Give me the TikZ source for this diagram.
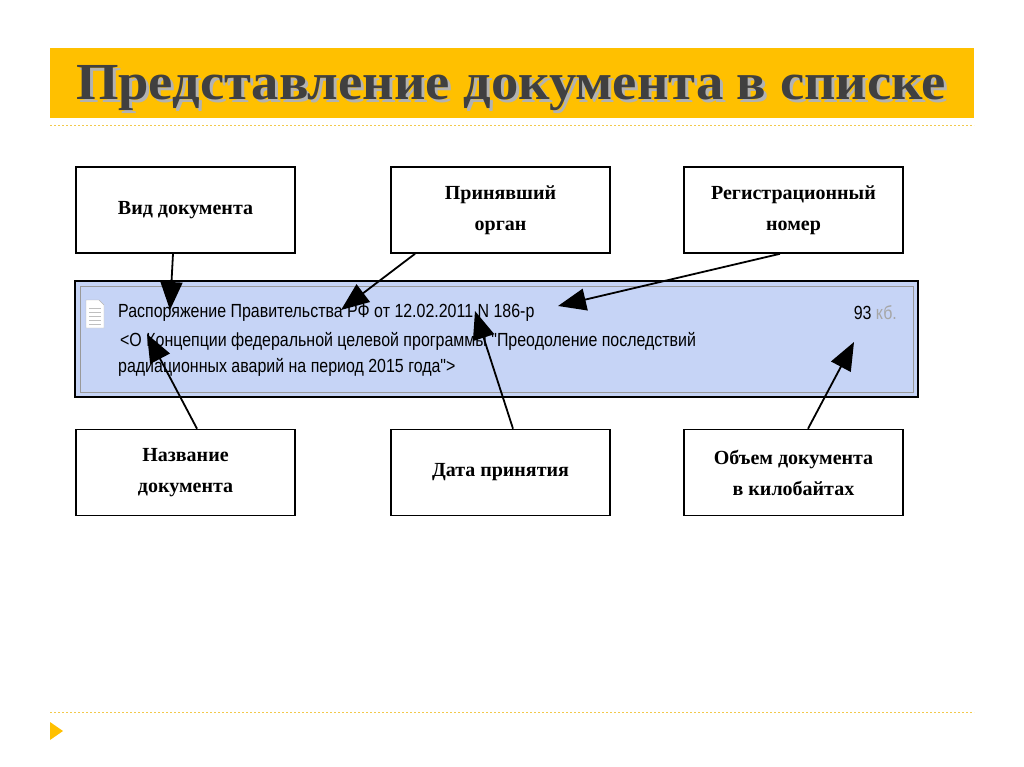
\documentclass[tikz,border=0pt]{standalone}
\usepackage{fontspec}
\setmainfont{Liberation Serif}
\newfontfamily\stripfont{Liberation Sans}
\usetikzlibrary{arrows.meta}
\definecolor{gold}{HTML}{FFC000}
\definecolor{stripblue}{HTML}{C6D4F6}
\definecolor{dotc}{HTML}{F2C94C}
\tikzset{
 lbl/.style={draw=black,line width=1.6pt,fill=white,minimum width=219pt,minimum height=86pt,align=center,font=\bfseries\fontsize{20}{31}\selectfont,inner sep=0pt},
 arr/.style={line width=1.8pt,-{Triangle[length=28pt,width=22pt]}},
 stxt/.style={anchor=west,inner sep=0pt,font=\stripfont\fontsize{19}{22}\selectfont,xscale=0.84}
}
\begin{document}
\begin{tikzpicture}[x=1pt,y=-1pt]
\useasboundingbox (0,0) rectangle (1024,767);
\fill[gold] (50,48) rectangle (974,118);
\node[font=\bfseries\fontsize{52}{56}\selectfont,text=black!30,xscale=1.05] at (514,91) {Представление документа в списке};
\node[font=\bfseries\fontsize{52}{56}\selectfont,text=black!75,xscale=1.05] (title) at (511,88) {Представление документа в списке};
\draw[dotc,line width=1pt,dash pattern=on 2pt off 2pt] (50,126) -- (974,126);
\draw[dotc,line width=1pt,dash pattern=on 2pt off 2pt] (50,712) -- (974,712);
\fill[gold] (50,722) -- (63,731) -- (50,740) -- cycle;
% strip
\draw[line width=2pt,fill=stripblue] (75,281) rectangle (918,397);
\draw[black!40,line width=0.5pt] (80,286) rectangle (913,392);
\draw[black!30,fill=white] (86,300) -- (99,300) -- (104,305) -- (104,328) -- (86,328) -- cycle;
\foreach \yy in {308,312,316,320,324} \draw[black!25] (89,\yy) -- (101,\yy);
\node[stxt] (l1) at (118,313) {Распоряжение Правительства РФ от 12.02.2011 N 186-р};
\node[stxt] (l2) at (120,341) {<О Концепции федеральной целевой программы "Преодоление последствий};
\node[stxt] (l3) at (118,367) {радиационных аварий на период 2015 года">};
\node[stxt,anchor=east] (sz) at (897,313) {93 \textcolor{black!35}{кб.}};
\coordinate (t1) at (170,310);
\coordinate (t2) at (341,310);
\coordinate (t3) at (558,306);
\coordinate (t4) at (147,334);
\coordinate (t5) at (475,311);
\coordinate (t6) at (854,342);
% boxes
\node[lbl] (b1) at (185.5,210) {Вид документа};
\node[lbl] (b2) at (500.5,210) {Принявший\\орган};
\node[lbl] (b3) at (793.5,210) {Регистрационный\\номер};
\node[lbl] (b4) at (185.5,472.5) {Название\\документа};
\node[lbl] (b5) at (500.5,472.5) {Дата принятия};
\node[lbl] (b6) at (793.5,472.5) {Объем документа\\в килобайтах};
\draw[arr] ([xshift=-12.5pt]b1.south) -- (t1);
\draw[arr] ([xshift=-85.5pt]b2.south) -- (t2);
\draw[arr] ([xshift=-13.5pt]b3.south) -- (t3);
\draw[arr] ([xshift=11.5pt]b4.north) -- (t4);
\draw[arr] ([xshift=12.5pt]b5.north) -- (t5);
\draw[arr] ([xshift=14.5pt]b6.north) -- (t6);
\end{tikzpicture}
\end{document}
